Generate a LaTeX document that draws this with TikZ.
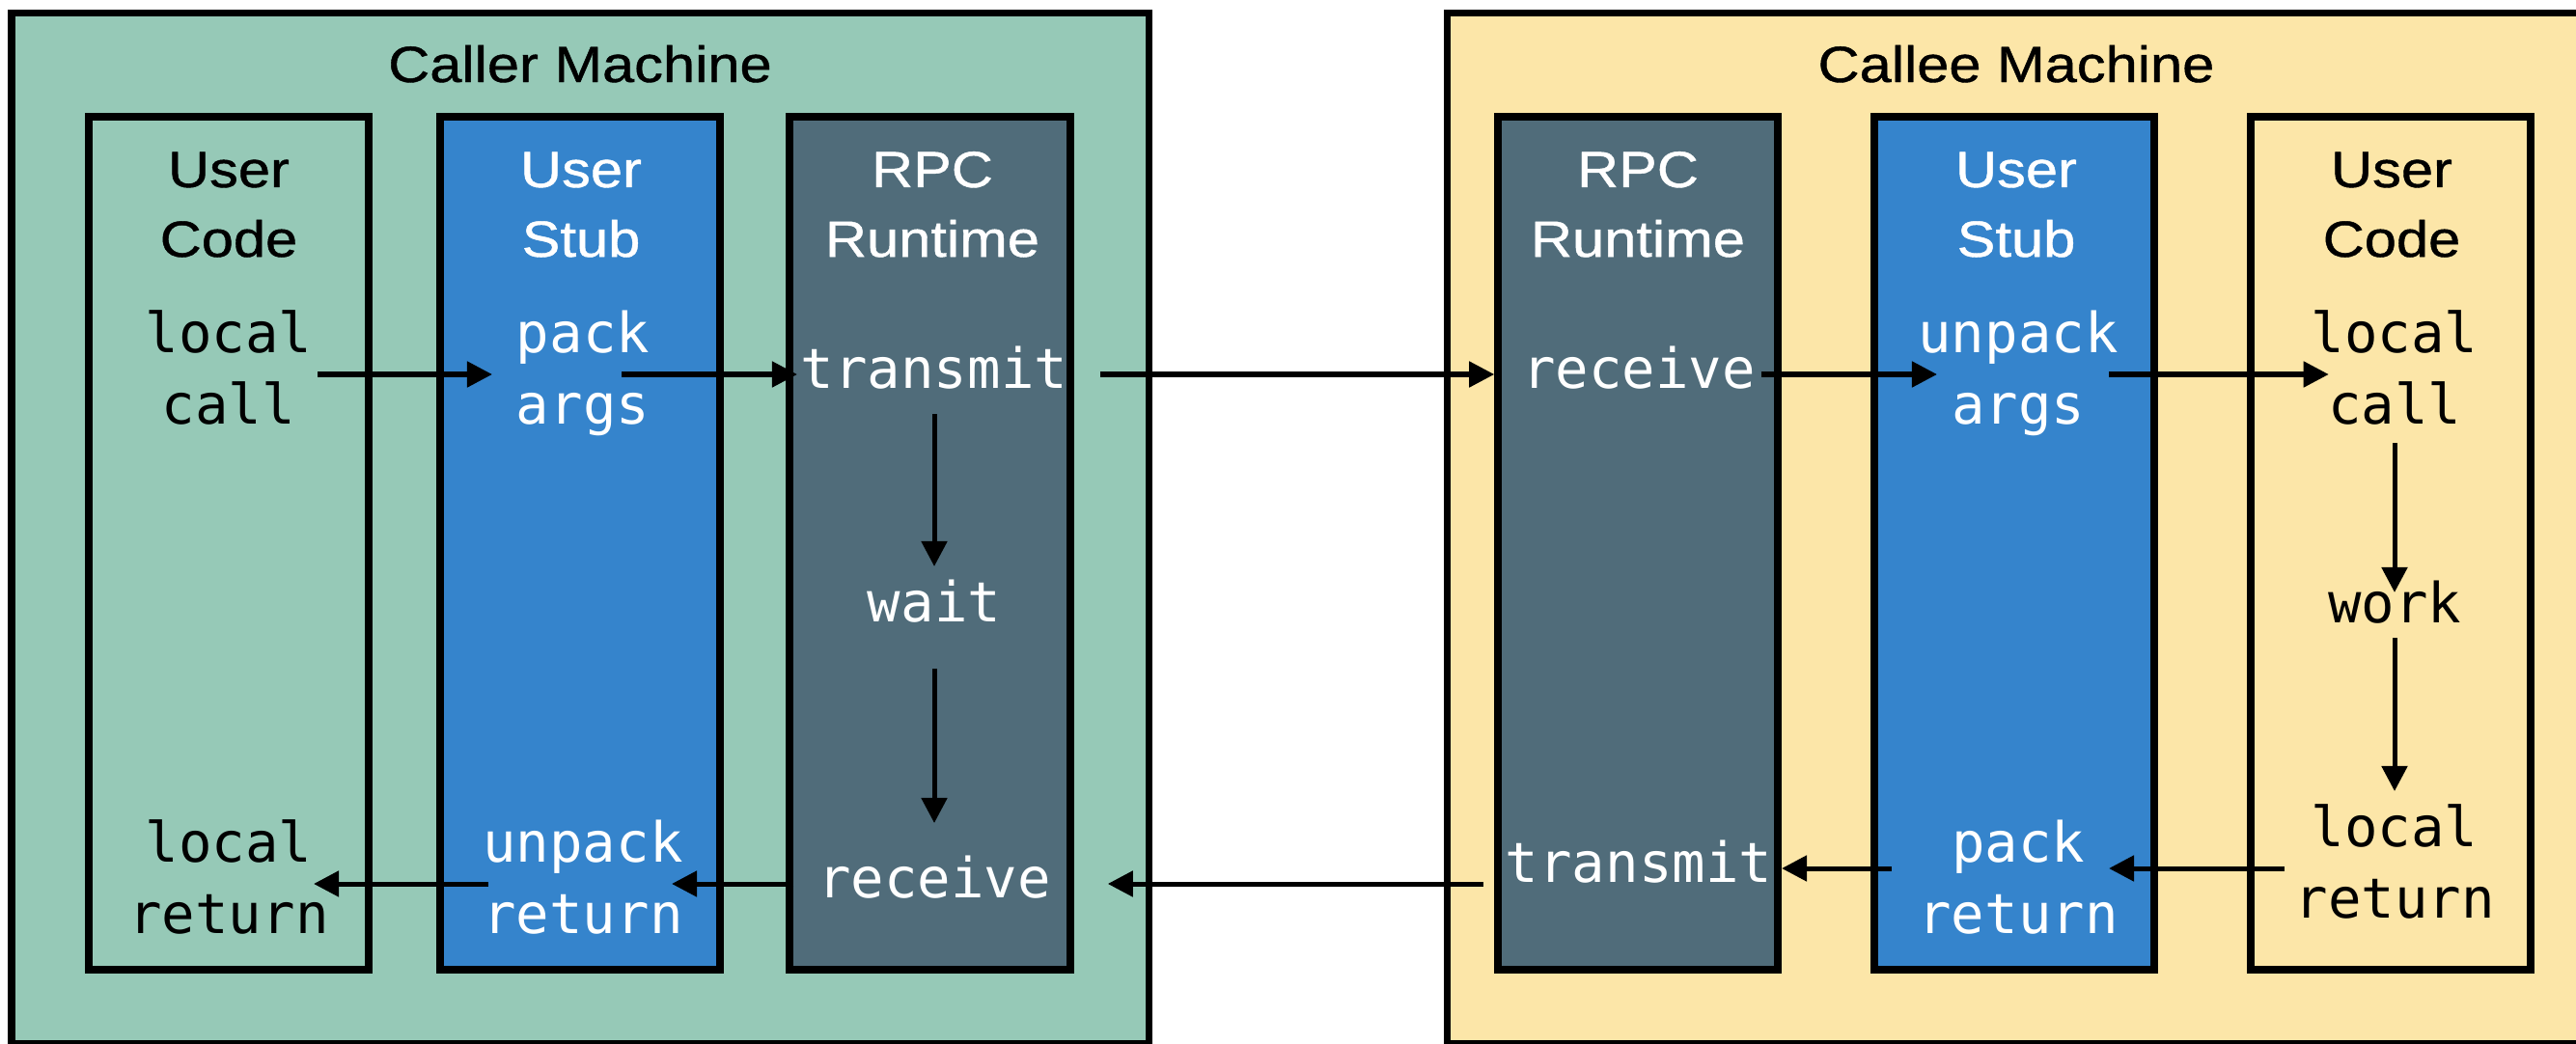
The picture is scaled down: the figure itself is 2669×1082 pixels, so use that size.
\documentclass[tikz,border=0pt]{standalone}
\usepackage{fontspec}
\usetikzlibrary{arrows.meta,calc}

\newfontfamily\headfont[FakeStretch=1.13,FakeBold=0.8]{Liberation Sans}
\newfontfamily\codefont{DejaVu Sans Mono}

\definecolor{callerbg}{RGB}{150,201,183}
\definecolor{calleebg}{RGB}{252,230,168}
\definecolor{stubblue}{RGB}{53,132,204}
\definecolor{rpcgray}{RGB}{80,108,122}

\newcommand{\twoline}[2]{\strut#1\\\strut#2}

\tikzset{
    col/.style={draw, line width=.08cm, minimum width=2.9cm, minimum height=8.84cm, inner sep=0pt},
    headtxt/.style={font=\headfont\fontsize{15}{20.5}\selectfont, align=center, inner sep=0pt, outer sep=0pt},
    codetxt/.style={font=\codefont\fontsize{16.3}{21.05}\selectfont, align=center, inner sep=0pt, outer sep=0pt},
    flow/.style={line width=.05cm, -{Triangle[length=.26cm,width=.26cm]}},
}

\begin{document}
\begin{tikzpicture}[x=0.01cm, y=-0.01cm]
            \useasboundingbox (0,0) rectangle (2669,1082);

            % Disegna le due macchine
            \draw[line width=.07cm, fill=callerbg] (12,13.5) rectangle (1190,1081);
            \draw[line width=.07cm, fill=calleebg] (1499,13.5) rectangle (2700,1081);
            \node[headtxt] (callerT) at (601,70.6) {\strut Caller Machine};
            \node[headtxt] (calleeT) at (2089,70.6) {\strut Callee Machine};

            % Colonne
            \node[col, fill=callerbg] (codeL) at (237,563) {};
            \node[col, fill=stubblue] (stubL) at (601,563) {};
            \node[col, fill=rpcgray] (rpcL) at (963.5,563) {};
            \node[col, fill=rpcgray] (rpcR) at (1697,563) {};
            \node[col, fill=stubblue] (stubR) at (2087,563) {};
            \node[col, fill=calleebg] (codeR) at (2477,563) {};

            % Intestazioni
            \node[headtxt] (codeLh) at (237,215.6) {\twoline{User}{Code}};
            \node[headtxt, text=white] (stubLh) at (602,215.6) {\twoline{User}{Stub}};
            \node[headtxt, text=white] (rpcLh) at (966,215.6) {\twoline{RPC}{Runtime}};
            \node[headtxt, text=white] (rpcRh) at (1697,215.6) {\twoline{RPC}{Runtime}};
            \node[headtxt, text=white] (stubRh) at (2089,215.6) {\twoline{User}{Stub}};
            \node[headtxt] (codeRh) at (2478,215.6) {\twoline{User}{Code}};

            % Passi lato chiamante
            \node[codetxt] (lcL) at (237,388) {\twoline{local}{call}};
            \node[codetxt, text=white] (paL) at (604,388) {\twoline{pack}{args}};
            \node[codetxt, text=white] (trL) at (968,388) {\strut transmit};
            \node[codetxt, text=white] (waL) at (968,630) {\strut wait};
            \node[codetxt, text=white] (rvL) at (968,916) {\strut receive};
            \node[codetxt, text=white] (urL) at (604,916) {\twoline{unpack}{return}};
            \node[codetxt] (lrL) at (237,916) {\twoline{local}{return}};

            % Passi lato chiamato
            \node[codetxt, text=white] (rcR) at (1698,388) {\strut receive};
            \node[codetxt, text=white] (uaR) at (2091,388) {\twoline{unpack}{args}};
            \node[codetxt] (lcR) at (2481,388) {\twoline{local}{call}};
            \node[codetxt] (wkR) at (2481,631) {\strut work};
            \node[codetxt] (lrR) at (2481,900) {\twoline{local}{return}};
            \node[codetxt, text=white] (prR) at (2091,916) {\twoline{pack}{return}};
            \node[codetxt, text=white] (tmR) at (1698,900) {\strut transmit};

            % Andata
            \draw[flow] ($(lcL.east)+(6,0)$) -- ($(paL.west)+(-25,0)$);
            \draw[flow] ($(paL.east)+(-29,0)$) -- ($(trL.west)+(-4,0)$);
            \draw[flow] ($(trL.east)+(34,0)$) -- ($(rcR.west)+(-29,0)$);
            \draw[flow] ($(rcR.east)+(6,0)$) -- ($(uaR.west)+(19.5,0)$);
            \draw[flow] ($(uaR.east)+(-9.5,0)$) -- ($(lcR.west)+(18,0)$);

            \draw[flow] ($(trL.south)+(0,4)$) -- ($(waL.north)+(0,-6)$);
            \draw[flow] ($(waL.south)+(0,26)$) -- ($(rvL.north)+(0,-26)$);
            \draw[flow] ($(lcR.south)+(0,-3)$) -- ($(wkR.north)+(0,20)$);
            \draw[flow] ($(wkR.south)+(0,-7)$) -- ($(lrR.north)+(0,-6)$);

            % Ritorno
            \draw[flow] ($(lrR.west)+(-10.5,0)$) -- ($(lrR.west -| prR.east)+(-9.5,0)$);
            \draw[flow] ($(tmR.east -| prR.west)+(-27.5,0)$) -- ($(tmR.east)+(10,0)$);
            \draw[flow] ($(rvL.east -| tmR.west)+(-23,0)$) -- ($(rvL.east)+(59,0)$);
            \draw[flow] ($(rvL.west)+(-25,0)$) -- ($(urL.east)+(-11.5,0)$);
            \draw[flow] ($(urL.west)+(5.5,0)$) -- ($(lrL.east)+(-15.5,0)$);

\end{tikzpicture}
\end{document}
